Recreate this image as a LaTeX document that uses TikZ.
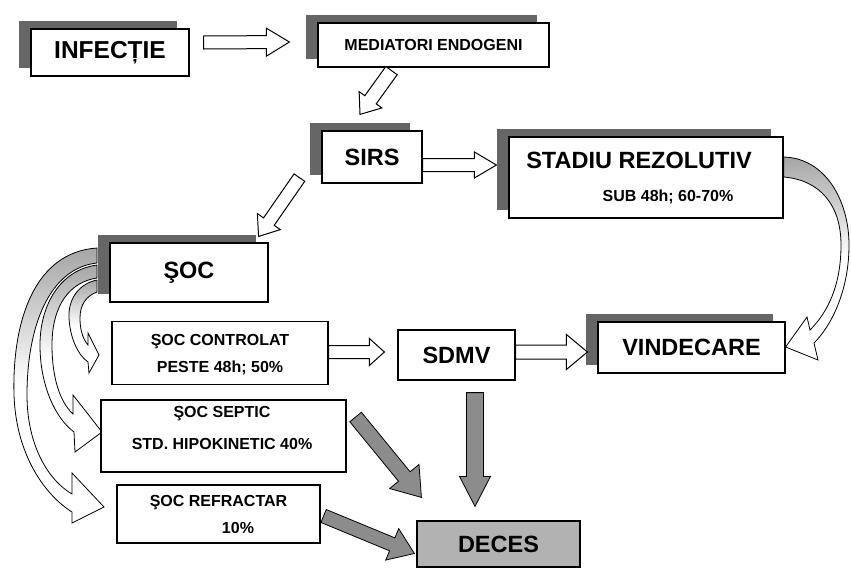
\documentclass[tikz,border=0pt]{standalone}
\usepackage{fontspec}
\setmainfont{Liberation Sans}
\usetikzlibrary{calc,shadows}

\tikzset{
  box/.style={draw=black, fill=white, line width=1.2pt, inner sep=0pt,
    general shadow={fill=black!60, shadow xshift=-12pt, shadow yshift=8pt}},
  flatbox/.style={draw=black, fill=white, line width=1.2pt, inner sep=0pt},
  big/.style={font=\fontsize{23.5}{28}\selectfont\bfseries},
  small/.style={font=\fontsize{16}{19}\selectfont\bfseries},
  hollow/.style={draw=black, fill=white, line width=1pt, line join=miter},
  dark/.style={draw=black, fill=black!45, line width=0.8pt, line join=miter},
  band/.style={draw=black, line width=0.8pt, top color=black!35, bottom color=white, middle color=white},
}

% block arrow: [style]{from}{to}{half shaft}{half head}{head length}
\newcommand{\blockarrow}[6][]{%
  \coordinate (bah) at ($(#3)!#6!(#2)$);
  \path[#1] ($(#2)!#4!90:(#3)$) -- ($(bah)!#4!90:(#3)$) -- ($(bah)!#5!90:(#3)$) -- (#3)
    -- ($(bah)!#5!-90:(#3)$) -- ($(bah)!#4!-90:(#3)$) -- ($(#2)!#4!-90:(#3)$) -- cycle;
}

\begin{document}
\begin{tikzpicture}[x=1pt,y=-1pt]
\useasboundingbox (0,0) rectangle (851,568);

% curved arrows out of SOC
\path[band] (97,248) .. controls (35,252) and (12,320) .. (14,395) .. controls (16,455) and (45,495) .. (72,512) -- (72,523) -- (104,507) -- (72,473) -- (72,494) .. controls (48,480) and (27,445) .. (27,395) .. controls (27,325) and (50,268) .. (97,263) -- cycle;
\path[band] (97,265) .. controls (60,270) and (40,305) .. (40,345) .. controls (40,385) and (55,418) .. (74,432) -- (75,452) -- (102,432) -- (73,395) -- (73,414) .. controls (60,402) and (52,378) .. (52,345) .. controls (52,305) and (70,282) .. (97,278) -- cycle;
\path[band] (97,280) .. controls (78,284) and (68,300) .. (69,318) .. controls (70,338) and (78,355) .. (88,362) -- (89,373) -- (99,355) -- (88,333) -- (88,345) .. controls (82,338) and (80,328) .. (80,318) .. controls (80,305) and (86,296) .. (97,292) -- cycle;

% boxes
\node[box, minimum width=158pt, minimum height=47pt, font=\fontsize{24.5}{29}\selectfont\bfseries] (inf) at (110,52.5) {INFECȚIE};
\node[box, minimum width=231pt, minimum height=44pt, small] (med) at (433.5,45) {MEDIATORI ENDOGENI};
\node[box, minimum width=100pt, minimum height=52pt, big] (sirs) at (372,157) {SIRS};
\node[box, minimum width=274pt, minimum height=81pt] (stadiu) at (646,177.5) {};
\node[big] (stadiu-t) at ($(stadiu.center)+(-7,-17.5)$) {STADIU REZOLUTIV};
\node[small] (stadiu-s) at ($(stadiu.center)+(22,19.5)$) {SUB 48h; 60-70\%};
\node[box, minimum width=158pt, minimum height=59pt, big] (soc) at (189,272.5) {ŞOC};
\node[flatbox, minimum width=216pt, minimum height=63pt] (ctrl) at (220,353) {};
\node[small] (ctrl-t) at ($(ctrl.center)+(0,-11)$) {ŞOC CONTROLAT};
\node[small] (ctrl-s) at ($(ctrl.center)+(0,15)$) {PESTE 48h; 50\%};
\node[flatbox, minimum width=117pt, minimum height=50pt, big] (sdmv) at (456.5,355) {SDMV};
\node[box, minimum width=187pt, minimum height=51pt, big] (vind) at (691.5,347.5) {VINDECARE};
\node[flatbox, minimum width=245pt, minimum height=72pt] (sept) at (223.5,436) {};
\node[small] (sept-t) at ($(sept.center)+(-1.5,-22)$) {ŞOC SEPTIC};
\node[small] (sept-s) at ($(sept.center)+(-1.5,8)$) {STD. HIPOKINETIC 40\%};
\node[flatbox, minimum width=203pt, minimum height=58pt] (refr) at (218.5,514) {};
\node[small] (refr-t) at ($(refr.center)+(0,-11.5)$) {ŞOC REFRACTAR};
\node[small] (refr-s) at ($(refr.center)+(19.5,13.5)$) {10\%};
\node[flatbox, fill=black!30, minimum width=163pt, minimum height=46pt, big] (deces) at (498.5,544) {DECES};

% curved arrow STADIU -> VINDECARE
\path[band] (stadiu.east |- 0,157) .. controls (825,158) and (849,200) .. (849,245) .. controls (849,290) and (832,325) .. (814,343) -- (818,360) -- (vind.east |- 0,347) -- (807,317) -- (810,330) .. controls (828,312) and (841,285) .. (841,245) .. controls (841,205) and (820,180) .. (stadiu.east |- 0,177) -- cycle;

% hollow arrows
\coordinate (a1s) at ($(inf.east)+(14,-10)$);
\coordinate (a1e) at ($(med.west)+(-28,-3)$);
\blockarrow[hollow]{a1s}{a1e}{6.5pt}{14pt}{23pt}
\coordinate (a2s) at ($(med.south)+(-42,3)$);
\coordinate (a2e) at ($(sirs.north)+(-12,-16)$);
\blockarrow[hollow]{a2s}{a2e}{7pt}{14pt}{18pt}
\coordinate (a3s) at ($(sirs.east)+(0,8)$);
\coordinate (a3e) at ($(stadiu.west)+(-12,-12.5)$);
\blockarrow[hollow]{a3s}{a3e}{6.5pt}{13pt}{22pt}
\coordinate (a4s) at ($(sirs.south west)+(-22,-6)$);
\coordinate (a4e) at ($(soc.north east)+(-10,-6)$);
\blockarrow[hollow]{a4s}{a4e}{6.5pt}{14pt}{18pt}
\coordinate (a5s) at ($(ctrl.east)+(0,-1)$);
\coordinate (a5e) at ($(sdmv.west)+(-13,-3)$);
\blockarrow[hollow]{a5s}{a5e}{6.5pt}{13.5pt}{15pt}
\coordinate (a6s) at ($(sdmv.east)+(0,-3)$);
\coordinate (a6e) at ($(vind.west)+(-10,4.5)$);
\blockarrow[hollow]{a6s}{a6e}{7pt}{17.5pt}{21pt}

% dark arrows into DECES
\coordinate (d1s) at ($(sept.east)+(9,-19)$);
\coordinate (d1e) at ($(deces.north west)+(5,-23)$);
\blockarrow[dark]{d1s}{d1e}{7.5pt}{19pt}{27pt}
\coordinate (d2s) at ($(sdmv.south)+(18.5,12)$);
\coordinate (d2e) at ($(deces.north)+(-23.5,-14)$);
\blockarrow[dark]{d2s}{d2e}{8.5pt}{15.5pt}{30pt}
\coordinate (d3s) at ($(refr.east)+(3,2)$);
\coordinate (d3e) at ($(deces.west)+(-2,9.5)$);
\blockarrow[dark]{d3s}{d3e}{7pt}{17pt}{24pt}
\end{tikzpicture}
\end{document}
